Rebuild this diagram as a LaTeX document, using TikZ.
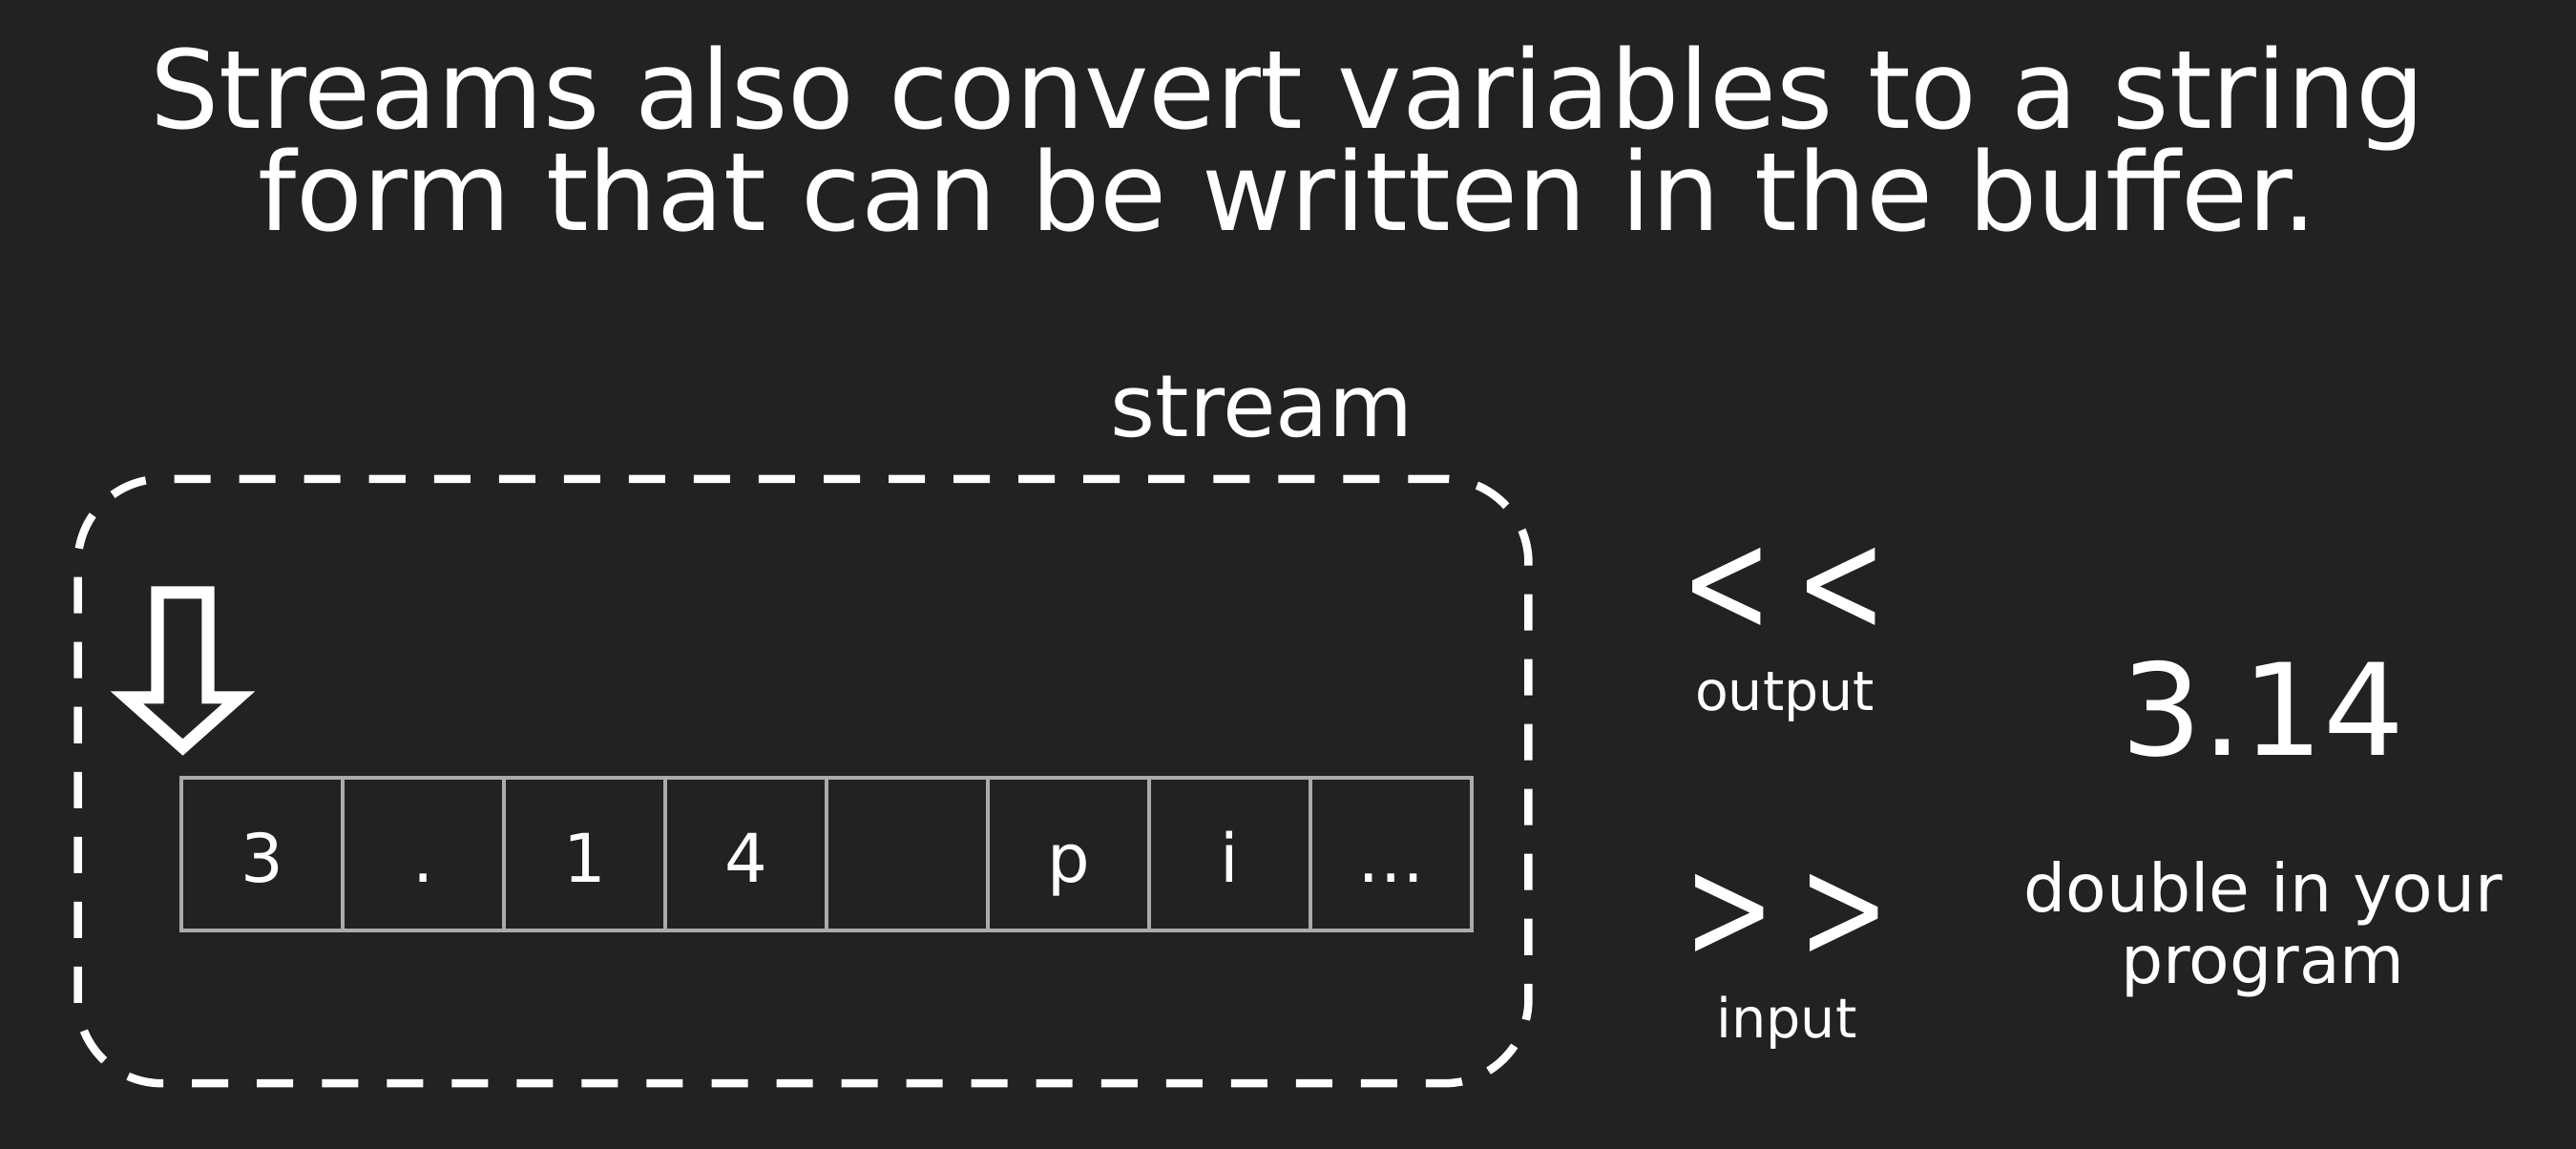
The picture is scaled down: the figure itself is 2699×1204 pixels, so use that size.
\documentclass[tikz,border=0pt]{standalone}
\usepackage{fontspec}
\setmainfont{DejaVu Sans}
\definecolor{bg}{HTML}{222222}
\definecolor{cellgray}{HTML}{ABABAB}
\begin{document}
\begin{tikzpicture}[x=0.01cm,y=-0.01cm,
  txt/.style={text=white, inner sep=0pt, anchor=base},
  cell/.style={draw=cellgray, line width=0.04cm, minimum width=1.69cm,
    minimum height=1.60cm, inner sep=0pt, outer sep=0pt, text=white,
    text height=16.5pt, text depth=0pt, font=\fontsize{20}{24}\selectfont},
  dashbox/.style={draw=white, line width=0.085cm,
    dash pattern=on 0.38cm off 0.30cm, rounded corners=0.88cm,
    minimum width=15.19cm, minimum height=6.33cm, inner sep=0pt},
  pointer/.style={draw=white, line width=0.13cm, miter limit=10},
  chev/.style={text=white, inner sep=0pt, anchor=center,
    font=\fontsize{36}{36}\selectfont}]
% background and page size
\fill[bg] (0,0) rectangle (2699,1204);
\useasboundingbox (0,0) rectangle (2699,1204);

% heading
\node[txt, font=\fontsize{32.4}{30.4}\selectfont] (title1) at (1349,135)
  {Streams also convert variables to a string};
\node[txt, font=\fontsize{32.4}{30.4}\selectfont] (title2) at (1349,242)
  {form that can be written in the buffer.};

% the stream and its buffer
\node[txt, font=\fontsize{25.7}{30}\selectfont] (streamlbl) at (1322,458) {stream};
\node[dashbox] (box) at (841.5,818.5) {};

\node[cell] (c1) at (274.5,895) {3};
\node[cell] (c2) at (443.5,895) {.};
\node[cell] (c3) at (612.5,895) {1};
\node[cell] (c4) at (781.5,895) {4};
\node[cell] (c5) at (950.5,895) {};
\node[cell] (c6) at (1119.5,895) {p};
\node[cell] (c7) at (1288.5,895) {i};
\node[cell] (c8) at (1457.5,895) {…};

% read/write position marker
\draw[pointer] (165,621) -- (218,621) -- (218,731) -- (250,731)
  -- (191.5,783) -- (133,731) -- (165,731) -- cycle;

% operators (kerned apart so they stay two separate signs)
\node[chev] (outop) at (1869,618) {\scalebox{0.9}[1.2]{<}\kern7pt\scalebox{0.9}[1.2]{<}};
\node[txt, font=\fontsize{16.2}{20}\selectfont] (outlbl) at (1870,745) {output};
\node[chev] (inop) at (1872,960) {\scalebox{0.9}[1.2]{>}\kern7pt\scalebox{0.9}[1.2]{>}};
\node[txt, font=\fontsize{16.3}{20}\selectfont] (inlbl) at (1872,1088) {input};

% the variable
\node[txt, font=\fontsize{38}{40}\selectfont] (value) at (2371,792) {3.14};
\node[txt, font=\fontsize{19.8}{24}\selectfont] (desc1) at (2371,956) {double in your};
\node[txt, font=\fontsize{19.8}{24}\selectfont] (desc2) at (2371,1031) {program};
\end{tikzpicture}
\end{document}
